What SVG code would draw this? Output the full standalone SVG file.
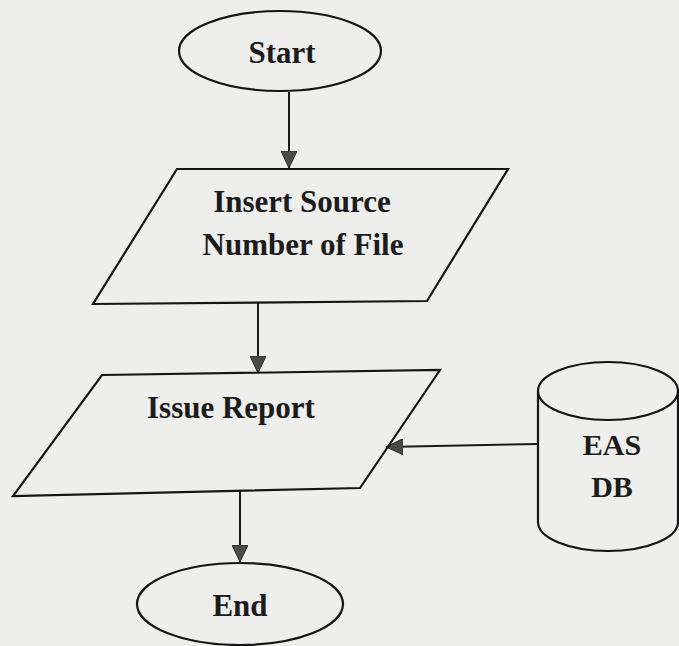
<svg xmlns="http://www.w3.org/2000/svg" width="679" height="646" viewBox="0 0 679 646">
  <defs>
    <style>
      .shape { fill: none; stroke: #151515; stroke-width: 2.2; stroke-linejoin: miter; }
      .link { fill: none; stroke: #1a1a1a; stroke-width: 2; }
      .label { font-family: "Liberation Serif", "Times New Roman", serif; font-weight: bold; font-size: 31px; fill: #1c1c1c; text-anchor: middle; }
    </style>
    <marker id="arrow" markerUnits="userSpaceOnUse" markerWidth="18" markerHeight="16" refX="17" refY="8" orient="auto">
      <path d="M0,0 L17,8 L0,16 Z" fill="#4a4a4a" stroke="#2a2a2a" stroke-width="1"/>
    </marker>
  </defs>

  <rect x="0" y="0" width="679" height="646" fill="#eeeeec"/>

  <g id="connectors">
    <line class="link" x1="289" y1="92" x2="289" y2="168" marker-end="url(#arrow)"/>
    <line class="link" x1="258" y1="302" x2="258" y2="373" marker-end="url(#arrow)"/>
    <line class="link" x1="538" y1="444" x2="386" y2="447" marker-end="url(#arrow)"/>
    <line class="link" x1="240" y1="490" x2="240" y2="562" marker-end="url(#arrow)"/>
  </g>

  <g id="start">
    <ellipse class="shape" cx="280" cy="51" rx="101" ry="40"/>
    <text class="label" x="282" y="63">Start</text>
  </g>

  <g id="insert-source">
    <polygon class="shape" points="177,169 508,169 427,301 93,304"/>
    <text class="label" x="302" y="212">Insert Source</text>
    <text class="label" x="303" y="255">Number of File</text>
  </g>

  <g id="issue-report">
    <polygon class="shape" points="102,375 440,370 360,488 13,496"/>
    <text class="label" x="231" y="418">Issue Report</text>
  </g>

  <g id="eas-db">
    <path class="shape" d="M538,391 L538,522 A70,29 0 0 0 678,522 L678,391"/>
    <ellipse class="shape" cx="608" cy="391" rx="70" ry="29" fill="#eeeeec"/>
    <text class="label" x="612" y="455" style="font-size:30px">EAS</text>
    <text class="label" x="612" y="497" style="font-size:30px">DB</text>
  </g>

  <g id="end">
    <ellipse class="shape" cx="240" cy="604" rx="103" ry="41"/>
    <text class="label" x="240" y="616">End</text>
  </g>
</svg>
